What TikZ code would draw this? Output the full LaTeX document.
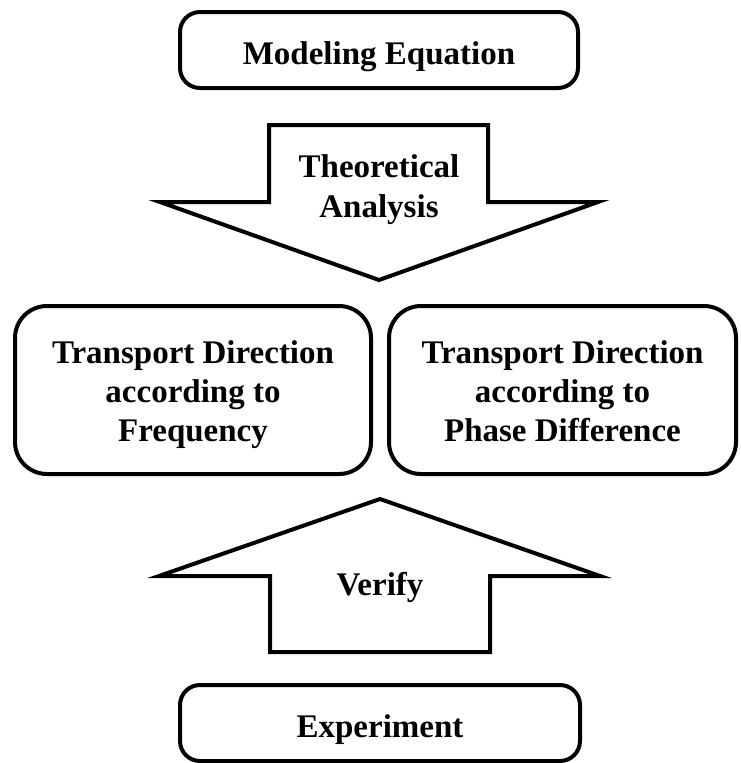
\documentclass[tikz,border=0pt]{standalone}
\usepackage{fontspec}
\setmainfont{Liberation Serif}
\usetikzlibrary{positioning}

\begin{document}
\begin{tikzpicture}[
    x=1pt, y=-1pt,
    box/.style={
        draw,
        line width=4pt,
        rounded corners=20pt,
        inner sep=0pt,
        align=center,
        text height=28pt,
        text depth=0pt,
        font=\bfseries\fontsize{33}{39}\selectfont
    },
    bigbox/.style={
        box,
        rounded corners=32pt,
        text height=102pt
    },
    blockarrow/.style={draw, line width=4pt, line join=miter},
    arrowtext/.style={align=center, font=\bfseries\fontsize{33}{40}\selectfont}
]
    \useasboundingbox (0,0) rectangle (741,763);

    \node[box, minimum width=398pt, minimum height=76pt] (model) at (379,50) {Modeling Equation};
    \node[bigbox, minimum width=356pt, minimum height=168pt] (freq) at (193,390)
        {Transport Direction\\according to\\Frequency};
    \node[bigbox, minimum width=347pt, minimum height=168pt] (phase) at (562.5,390)
        {Transport Direction\\according to\\Phase Difference};
    \node[box, minimum width=400pt, minimum height=76pt] (exper) at (380,723) {Experiment};

    % down arrow: theory
    \draw[blockarrow] (269,125) -- (488,125) -- (488,202) -- (598,202)
        -- (379,280) -- (160,202) -- (269,202) -- cycle;
    \node[arrowtext] (theory) at (379,189.5) {Theoretical\\Analysis};

    % up arrow: experiment
    \draw[blockarrow] (270,652) -- (490,652) -- (490,576) -- (600,576)
        -- (380,499) -- (159,576) -- (270,576) -- cycle;
    \node[arrowtext] (verify) at (380,587) {Verify};
\end{tikzpicture}
\end{document}
